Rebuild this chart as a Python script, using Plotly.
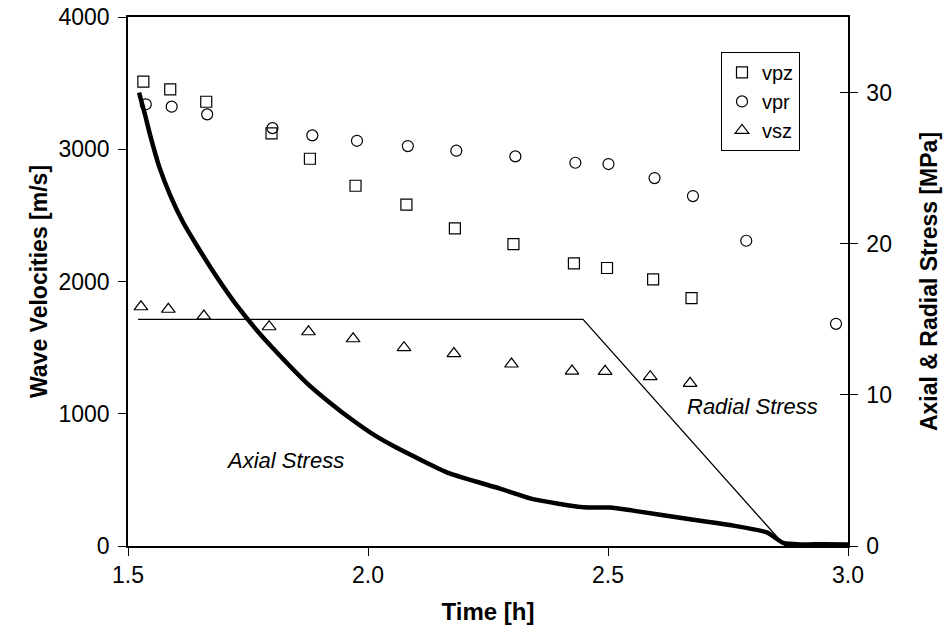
import plotly.graph_objects as go

# ---- data ----
t_vpz = [1.532, 1.588, 1.663, 1.799, 1.879, 1.974, 2.080, 2.181, 2.303, 2.429, 2.498, 2.594, 2.674]
vpz = [3511, 3453, 3359, 3120, 2928, 2724, 2581, 2402, 2283, 2137, 2102, 2016, 1875]

t_vpr = [1.537, 1.591, 1.665, 1.801, 1.884, 1.977, 2.083, 2.184, 2.307, 2.432, 2.501, 2.597, 2.677, 2.788, 2.975]
vpr = [3340, 3322, 3264, 3160, 3105, 3064, 3024, 2989, 2946, 2898, 2888, 2782, 2646, 2308, 1680]

t_vsz = [1.527, 1.584, 1.658, 1.794, 1.876, 1.969, 2.075, 2.179, 2.299, 2.425, 2.494, 2.588, 2.671]
vsz = [1809, 1790, 1739, 1658, 1620, 1567, 1500, 1455, 1376, 1323, 1321, 1280, 1230]

t_axial = [1.523, 1.535, 1.546, 1.565, 1.588, 1.615, 1.643, 1.685, 1.727, 1.765, 1.803, 1.872, 1.920, 1.969,
           2.015, 2.060, 2.170, 2.275, 2.344, 2.449, 2.504, 2.552, 2.664, 2.761, 2.831, 2.865, 2.900, 2.950, 3.000]
axial = [30.0, 28.6, 27.2, 25.1, 23.2, 21.4, 19.9, 17.8, 15.9, 14.4, 13.05, 10.8, 9.5, 8.3,
         7.3, 6.5, 4.8, 3.8, 3.1, 2.56, 2.55, 2.34, 1.8, 1.35, 0.9, 0.2, 0.1, 0.12, 0.1]

t_radial = [1.521, 2.448, 2.869, 3.0]
radial = [15.0, 15.0, 0.0, 0.0]

FONT = "Arial, Liberation Sans, sans-serif"

fig = go.Figure()

fig.add_trace(go.Scatter(x=t_axial, y=axial, yaxis="y2", mode="lines",
                         line=dict(color="black", width=4.5, shape="spline", smoothing=0.5),
                         showlegend=False, hoverinfo="skip"))
fig.add_trace(go.Scatter(x=t_radial, y=radial, yaxis="y2", mode="lines",
                         line=dict(color="black", width=1.3),
                         showlegend=False, hoverinfo="skip"))

fig.add_trace(go.Scatter(x=t_vpz, y=vpz, mode="markers", name="vpz",
                         marker=dict(symbol="square-open", size=11, color="black", line=dict(width=1.2))))
fig.add_trace(go.Scatter(x=t_vpr, y=vpr, mode="markers", name="vpr",
                         marker=dict(symbol="circle-open", size=11, color="black", line=dict(width=1.2))))
fig.add_trace(go.Scatter(x=t_vsz, y=vsz, mode="markers", name="vsz",
                         marker=dict(symbol="triangle-up-open", size=12, color="black", line=dict(width=1.2))))

axis_common = dict(showline=True, linecolor="black", linewidth=1.5, showgrid=False, zeroline=False,
                   ticks="outside", ticklen=8, tickwidth=1.2, tickcolor="black", automargin=False,
                   tickfont=dict(family=FONT, size=23, color="black"))

fig.update_layout(
    width=944, height=644,
    margin=dict(l=128, r=96, t=17, b=98, autoexpand=False),
    paper_bgcolor="white", plot_bgcolor="white",
    font=dict(family=FONT, color="black"),
    xaxis=dict(range=[1.5, 3.0], dtick=0.5, tickformat=".1f", mirror=True,
               title=dict(text="<b>Time [h]</b>", font=dict(family=FONT, size=24), standoff=16),
               **axis_common),
    yaxis=dict(range=[0, 4000], dtick=1000, ticklabelstandoff=4,
               title=dict(text="<b>Wave Velocities [m/s]</b>", font=dict(family=FONT, size=23), standoff=4),
               **axis_common),
    yaxis2=dict(range=[0, 35], dtick=10, overlaying="y", side="right", anchor="x", ticklabelstandoff=4,
                title=dict(text="<b>Axial &amp; Radial Stress [MPa]</b>", font=dict(family=FONT, size=23), standoff=30),
                **axis_common),
    yaxis3=dict(range=[0, 35], dtick=10, overlaying="y", side="right", anchor="x",
                showline=False, showgrid=False, zeroline=False, showticklabels=False, automargin=False,
                ticks="inside", ticklen=8, tickwidth=1.2, tickcolor="black"),
    legend=dict(x=0.8236, y=0.934, xanchor="left", yanchor="top",
                bordercolor="black", borderwidth=1, bgcolor="white",
                font=dict(family=FONT, size=20), itemwidth=30, tracegroupgap=0),
    annotations=[
        dict(x=1.827, y=643, xref="x", yref="y", text="<i>Axial Stress</i>", showarrow=False,
             font=dict(family=FONT, size=22, color="black")),
        dict(x=2.802, y=1058, xref="x", yref="y", text="<i>Radial Stress</i>", showarrow=False,
             font=dict(family=FONT, size=22, color="black")),
    ],
)

# dummy trace so yaxis3 renders its inside ticks
fig.add_trace(go.Scatter(x=[None], y=[None], yaxis="y3", showlegend=False, hoverinfo="skip"))

fig.write_html("out.html", config={"displayModeBar": False},
               post_script="document.body.style.margin='0';")
